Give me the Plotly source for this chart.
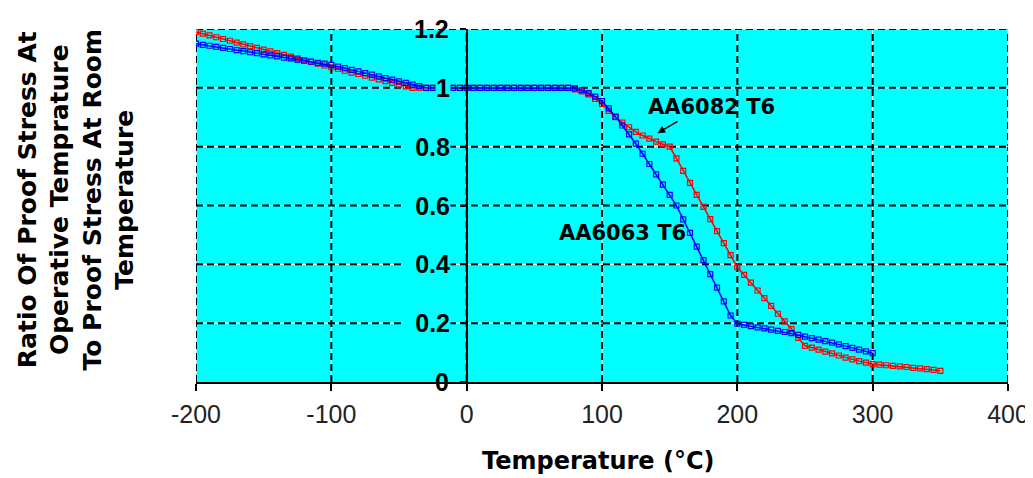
import plotly.graph_objects as go

# ---------------- data ----------------
temp_6082 = list(range(-200, 355, 5))
ratio_6082 = [
    1.190, 1.184, 1.178, 1.172, 1.166, 1.160, 1.154, 1.148, 1.142, 1.136,
    1.130, 1.124, 1.118, 1.112, 1.106, 1.100, 1.094, 1.088, 1.082, 1.076,
    1.070, 1.064, 1.058, 1.052, 1.047, 1.041, 1.035, 1.029, 1.023, 1.017,
    1.011, 1.005, 1.000,
    1.0, 1.0, 1.0, 1.0, 1.0, 1.0, 1.0, 1.0, 1.0, 1.0, 1.0, 1.0,
    1.0, 1.0, 1.0, 1.0, 1.0, 1.0, 1.0, 1.0, 1.0, 1.0, 1.0,
    0.995, 0.988, 0.978, 0.962, 0.945, 0.922, 0.900, 0.882, 0.866, 0.850,
    0.838, 0.827, 0.817, 0.808, 0.800, 0.760, 0.718, 0.677, 0.636, 0.595,
    0.554, 0.513, 0.472, 0.431, 0.390, 0.364, 0.338, 0.311, 0.285, 0.259,
    0.232, 0.206, 0.180, 0.150, 0.123, 0.117, 0.110, 0.103, 0.097, 0.090,
    0.083, 0.077, 0.071, 0.066, 0.061, 0.059, 0.057, 0.055, 0.053, 0.051,
    0.048, 0.046, 0.044, 0.041, 0.038,
]

temp_6063 = list(range(-200, 305, 5))
ratio_6063 = [
    1.150, 1.146, 1.143, 1.139, 1.136, 1.132, 1.128, 1.125, 1.121, 1.118,
    1.114, 1.110, 1.107, 1.103, 1.100, 1.096, 1.092, 1.089, 1.085, 1.082,
    1.078, 1.072, 1.067, 1.061, 1.056, 1.050, 1.045, 1.039, 1.033, 1.028,
    1.022, 1.017, 1.011, 1.006, 1.000,
    1.0, 1.0, 1.0, 1.0, 1.0, 1.0, 1.0, 1.0, 1.0, 1.0, 1.0,
    1.0, 1.0, 1.0, 1.0, 1.0, 1.0, 1.0, 1.0, 1.0, 1.0,
    0.998, 0.992, 0.982, 0.970, 0.955, 0.930, 0.902, 0.872, 0.842, 0.810,
    0.776, 0.741, 0.706, 0.671, 0.636, 0.600, 0.553, 0.507, 0.460, 0.414,
    0.367, 0.321, 0.274, 0.226, 0.198, 0.194, 0.190, 0.186, 0.182, 0.178,
    0.174, 0.170, 0.166, 0.160, 0.154, 0.149, 0.144, 0.139, 0.134, 0.128,
    0.122, 0.116, 0.110, 0.104, 0.098,
]

x_ticks = [-200, -100, 0, 100, 200, 300, 400]
x_tick_labels = ["-200", "-100", "0", "100", "200", "300", "400"]
y_ticks = [0, 0.2, 0.4, 0.6, 0.8, 1.0, 1.2]
y_tick_labels = ["0", "0.2", "0.4", "0.6", "0.8", "1", "1.2"]

x_title = "Temperature (°C)"
y_title = ("Ratio Of Proof Stress At<br>Operative Temprature<br>"
           "To Proof Stress At Room<br>Temperature")
label_6082 = "AA6082 T6"
label_6063 = "AA6063 T6"
label_6082_pos = (181, 0.934)
label_6063_pos = (115, 0.507)
arrow_head = (141, 0.846)
arrow_tail = (157, 0.889)

X_RANGE = [-200, 400]
Y_RANGE = [0, 1.2]
CYAN = "#00FFFF"
BOLD = "DejaVu Sans"

fig = go.Figure()
fig.add_trace(go.Scatter(
    x=temp_6082, y=ratio_6082, mode="lines+markers", name=label_6082,
    line=dict(color="#FF0000", width=1.5),
    marker=dict(symbol="square-open", size=5, color="#FF0000", line=dict(width=1.2)),
))
fig.add_trace(go.Scatter(
    x=temp_6063, y=ratio_6063, mode="lines+markers", name=label_6063,
    line=dict(color="#0000FF", width=1.5),
    marker=dict(symbol="square-open", size=5, color="#0000FF", line=dict(width=1.2)),
))

shapes = []
# white base under dashed black gridlines
for xv in x_ticks:
    for col, dash, w in (("white", "solid", 1), ("black", "7px,4px", 2)):
        shapes.append(dict(type="line", xref="x", yref="y", x0=xv, x1=xv,
                           y0=Y_RANGE[0], y1=Y_RANGE[1], layer="between",
                           line=dict(color=col, dash=dash, width=w)))
for yv in y_ticks[1:]:
    for col, dash, w in (("white", "solid", 1), ("black", "7px,4px", 2)):
        shapes.append(dict(type="line", xref="x", yref="y", x0=X_RANGE[0], x1=X_RANGE[1],
                           y0=yv, y1=yv, layer="between",
                           line=dict(color=col, dash=dash, width=w)))

annotations = []
for yv, lab in zip(y_ticks, y_tick_labels):
    a = dict(x=0, y=yv, xref="x", yref="y", text=lab, showarrow=False,
             xanchor="right", yanchor="middle", xshift=-16,
             font=dict(family="Liberation Sans", size=25, color="black", weight="bold"))
    if lab not in ("0", "1.2", "1"):
        a.update(bgcolor=CYAN, width=48, align="right", borderpad=0)
    elif lab == "1":
        a.update(bgcolor=CYAN, borderpad=0)
    annotations.append(a)

annotations.append(dict(x=label_6082_pos[0], y=label_6082_pos[1], xref="x", yref="y",
                        text=label_6082, showarrow=False,
                        font=dict(family=BOLD, size=21, color="black", weight="bold")))
annotations.append(dict(x=label_6063_pos[0], y=label_6063_pos[1], xref="x", yref="y",
                        text=label_6063, showarrow=False,
                        font=dict(family=BOLD, size=21, color="black", weight="bold")))
annotations.append(dict(x=arrow_head[0], y=arrow_head[1], xref="x", yref="y",
                        ax=arrow_tail[0], ay=arrow_tail[1], axref="x", ayref="y",
                        text="", showarrow=True, arrowhead=2, arrowsize=1,
                        arrowwidth=1.5, arrowcolor="black"))
annotations.append(dict(x=0.496, y=-0.224, xref="paper", yref="paper", text=x_title,
                        showarrow=False, xanchor="center", yanchor="middle",
                        font=dict(family=BOLD, size=24, color="black", weight="bold")))
annotations.append(dict(x=-0.147, y=0.516, xref="paper", yref="paper", text=y_title,
                        showarrow=False, xanchor="center", yanchor="middle",
                        textangle=-90,
                        font=dict(family=BOLD, size=25, color="black", weight="bold")))

# the page body adds an 8px offset; margins compensate for it
fig.update_layout(
    width=1033, height=478,
    margin=dict(l=188, r=29, t=21, b=104),
    paper_bgcolor="white", plot_bgcolor=CYAN,
    showlegend=False,
    shapes=shapes, annotations=annotations,
    xaxis=dict(range=X_RANGE, tickvals=x_ticks, ticktext=x_tick_labels,
               showgrid=False, zeroline=False, showline=True, linecolor="black",
               linewidth=2, ticks="outside", ticklen=7, tickwidth=2, tickcolor="black",
               ticklabelstandoff=2,
               tickfont=dict(family="Liberation Sans", size=25, color="#222222")),
    yaxis=dict(range=Y_RANGE, tickvals=y_ticks, showticklabels=False,
               showgrid=False, zeroline=False, showline=True, linecolor="black",
               linewidth=2, ticks="outside", ticklen=6, tickwidth=2, tickcolor="black",
               anchor="free", position=(0 - X_RANGE[0]) / (X_RANGE[1] - X_RANGE[0])),
)

fig.write_html("out.html")
